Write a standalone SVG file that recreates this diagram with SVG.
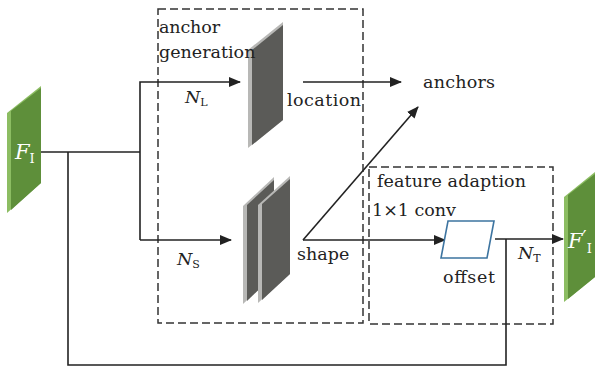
<svg xmlns="http://www.w3.org/2000/svg" width="598" height="372" viewBox="0 0 598 372">
<style>
.t{font-family:"DejaVu Serif","Liberation Serif",serif;font-size:17.5px;fill:#222}
.i{font-style:italic}
.sub{font-size:11px;font-style:normal}
.w{fill:#fff;font-size:21px}
.ln{fill:none;stroke:#222;stroke-width:1.6}
.dash{fill:none;stroke:#333;stroke-width:1.5;stroke-dasharray:8 4}
.gL{fill:#8cbd62}.gD{fill:#5e8f3a}
.pL{fill:#b8b8b6}.pD{fill:#5b5b58}
</style>
<defs>
<marker id="ah" markerUnits="userSpaceOnUse" markerWidth="12" markerHeight="10" refX="11" refY="5" orient="auto">
<path d="M0,0 L12,5 L0,10 Z" fill="#222"/>
</marker>
</defs>
<g id="boxes">
<rect id="anchor-generation-box" class="dash" x="158" y="9" width="205" height="314"/>
<rect id="feature-adaption-box" class="dash" x="369" y="167" width="184" height="157"/>
</g>
<g id="connectors">
<path class="ln" d="M41,152 H140"/>
<path class="ln" d="M140,240 V82 H240" marker-end="url(#ah)"/>
<path class="ln" d="M140,240 H231" marker-end="url(#ah)"/>
<path class="ln" d="M303,82 H401" marker-end="url(#ah)"/>
<path class="ln" d="M303,240 L418,107" marker-end="url(#ah)"/>
<path class="ln" d="M303,240 H445" marker-end="url(#ah)"/>
<path class="ln" d="M495,239 H563" marker-end="url(#ah)"/>
<path class="ln" d="M68,152 V365 H506 V239"/>
</g>
<g id="FI">
<polygon class="gL" points="7,113 41,86 41,183 7,213"/>
<polygon class="gD" points="11,111 41,88 41,183 11,210"/>
<text x="15" y="159" class="t i w">F<tspan class="sub" style="fill:#fff;font-size:13px" dy="4">I</tspan></text>
</g>
<g id="location-plate">
<polygon class="pL" points="248,50 283,22 283,120 248,148"/>
<polygon class="pD" points="252,50 283,25 283,120 252,145"/>
</g>
<g id="shape-plates">
<polygon class="pL" points="243,206 274,177 274,275 243,304"/>
<polygon class="pD" points="247,205 274,180 274,275 247,301"/>
<polygon class="pL" points="258,205 290,176 290,274 258,303"/>
<polygon class="pD" points="262,204 290,179 290,274 262,300"/>
</g>
<g id="offset">
<polygon points="448,221 494,221 487,258 441,258" fill="#fff" stroke="#3d74a0" stroke-width="1.6"/>
</g>
<g id="FI-prime">
<polygon class="gL" points="564,197 595,172 595,277 564,302"/>
<polygon class="gD" points="568,195 595,174 595,277 568,299"/>
<text x="568" y="248" class="t i w">F<tspan style="font-style:normal;font-size:18px" dy="-4">′</tspan><tspan class="sub" style="fill:#fff;font-size:13px" dy="9">I</tspan></text>
</g>
<g id="labels">
<text x="159" y="33" class="t" textLength="61">anchor</text>
<text x="159" y="58" class="t">generation</text>
<text x="185" y="103" class="t i">N<tspan class="sub" dy="3">L</tspan></text>
<text x="177" y="265" class="t i">N<tspan class="sub" dy="3">S</tspan></text>
<text x="287" y="106" class="t" textLength="74">location</text>
<text x="423" y="88" class="t" textLength="72">anchors</text>
<text x="297" y="260" class="t">shape</text>
<text x="377" y="187" class="t" textLength="149">feature adaption</text>
<text x="372" y="216" class="t">1×1 conv</text>
<text x="443" y="283" class="t" textLength="52">offset</text>
<text x="518" y="259" class="t i">N<tspan class="sub" dy="3">T</tspan></text>
</g>
</svg>
